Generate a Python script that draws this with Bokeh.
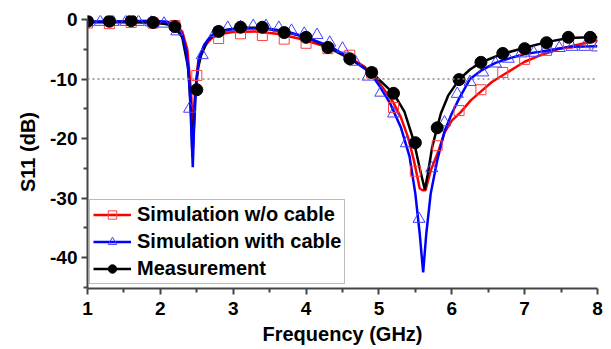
from bokeh.plotting import figure
from bokeh.models import Range1d, FixedTicker, Span, Legend, LegendItem
from bokeh.embed import file_html
from bokeh.resources import INLINE

# ---- data ----
# Simulation w/o cable (line)
red_f = [1.0, 1.5, 2.0, 2.2, 2.3, 2.37, 2.42, 2.45, 2.48, 2.52, 2.6, 2.7, 2.8, 3.0, 3.3, 3.6, 3.9,
         4.2, 4.5, 4.8, 5.0, 5.2, 5.3, 5.4, 5.48, 5.56, 5.6, 5.64, 5.71, 5.82, 5.9, 6.0, 6.12,
         6.26, 6.39, 6.55, 6.76, 7.0, 7.22, 7.45, 7.67, 7.85, 8.0]
red_db = [-0.5, -0.5, -0.6, -1.0, -2.0, -5.0, -12.0, -19.0, -12.0, -7.0, -4.5, -3.2, -2.5, -2.1,
          -2.0, -2.4, -3.2, -4.3, -5.7, -7.9, -10.6, -14.0, -16.4, -19.8, -23.7, -28.4, -28.7,
          -28.7, -25.4, -22.0, -19.0, -17.0, -15.6, -13.6, -12.2, -10.5, -8.9, -7.1, -6.0, -5.0,
          -4.4, -3.9, -3.5]
# Simulation w/o cable (markers)
red_mf = [1.0, 1.3, 1.6, 1.9, 2.2, 2.5, 2.8, 3.1, 3.4, 3.7, 4.0, 4.3, 4.6, 4.9, 5.2, 5.5, 5.8,
          6.1, 6.4, 6.7, 7.0, 7.3, 7.6, 7.9]
red_mdb = [-0.6, -0.7, -0.5, -0.6, -1.0, -9.4, -3.2, -2.4, -2.7, -3.3, -4.0, -4.9, -6.0, -9.0,
           -14.8, -25.5, -21.2, -15.3, -11.8, -8.9, -6.7, -5.2, -4.0, -3.9]

# Simulation with cable (line)
blue_f = [1.0, 1.5, 1.9, 2.1, 2.2, 2.3, 2.36, 2.4, 2.43, 2.445, 2.46, 2.49, 2.53, 2.6, 2.69,
          2.83, 3.0, 3.24, 3.5, 3.69, 3.9, 4.15, 4.33, 4.61, 4.88, 5.02, 5.15, 5.3, 5.42, 5.5,
          5.56, 5.607, 5.65, 5.71, 5.8, 5.9, 6.0, 6.1, 6.25, 6.4, 6.6, 6.8, 7.0, 7.22, 7.45,
          7.67, 8.0]
blue_db = [-0.4, -0.3, -0.2, -0.4, -0.8, -2.5, -5.5, -11.0, -20.0, -24.8, -19.0, -11.0, -6.5,
           -4.3, -2.8, -1.9, -1.6, -1.5, -1.6, -1.9, -2.6, -3.7, -4.5, -6.6, -8.9, -11.4, -14.0,
           -18.1, -23.0, -29.3, -36.0, -42.5, -36.0, -29.3, -23.7, -18.8, -15.8, -13.3, -10.0,
           -8.6, -7.3, -6.5, -5.8, -5.4, -4.9, -4.6, -4.5]
# Simulation with cable (markers)
blue_mf = [1.0, 1.175, 1.35, 1.525, 1.7, 1.875, 2.05, 2.225, 2.4, 2.575, 2.75, 2.925, 3.1,
           3.275, 3.45, 3.625, 3.8, 3.975, 4.15, 4.325, 4.5, 4.675, 4.85, 5.025, 5.2, 5.375,
           5.55, 5.725, 5.9, 6.075, 6.25, 6.425, 6.6, 6.775, 6.95, 7.125, 7.3, 7.475, 7.65,
           7.825, 8.0]
blue_mdb = [-0.5, -0.4, -0.4, -0.4, -0.4, -0.5, -0.7, -2.0, -15.0, -6.0, -2.3, -1.4, -1.3,
            -1.1, -1.1, -1.4, -1.9, -2.4, -2.6, -3.9, -4.9, -7.1, -9.6, -12.3, -15.8, -20.8,
            -33.5, -25.0, -17.3, -12.5, -10.5, -8.9, -7.4, -6.6, -5.7, -5.6, -5.0, -4.8, -4.6,
            -4.6, -4.7]

# Measurement (line)
meas_f = [1.0, 1.3, 1.6, 1.9, 2.1, 2.2, 2.3, 2.38, 2.42, 2.44, 2.46, 2.48, 2.52, 2.56, 2.65,
          2.78, 3.1, 3.4, 3.69, 4.0, 4.29, 4.6, 4.9, 5.02, 5.2, 5.35, 5.48, 5.56, 5.63, 5.67,
          5.73, 5.8, 5.85, 5.95, 6.1, 6.25, 6.4, 6.69, 6.99, 7.3, 7.6, 7.9, 8.0]
meas_db = [-0.4, -0.4, -0.3, -0.5, -0.8, -1.3, -3.0, -8.0, -15.0, -23.0, -18.0, -12.0, -8.0,
           -6.0, -3.5, -2.0, -1.4, -1.4, -2.1, -2.9, -4.6, -6.6, -8.9, -10.3, -12.4, -15.5,
           -20.5, -25.0, -28.6, -26.0, -21.5, -18.1, -15.8, -12.8, -10.1, -8.4, -7.2, -5.8,
           -4.8, -3.8, -3.1, -3.0, -3.0]
# Measurement (markers)
meas_mf = [1.0, 1.3, 1.6, 1.9, 2.2, 2.5, 2.8, 3.1, 3.4, 3.7, 4.0, 4.3, 4.6, 4.9, 5.2, 5.5, 5.8,
           6.1, 6.4, 6.7, 7.0, 7.3, 7.6, 7.9]
meas_mdb = [-0.3, -0.3, -0.2, -0.5, -1.2, -11.8, -2.0, -1.3, -1.3, -2.2, -3.0, -4.7, -6.6, -8.9,
            -12.4, -20.7, -18.2, -10.1, -7.2, -5.7, -4.9, -3.9, -3.0, -3.0]

x_ticks = [1, 2, 3, 4, 5, 6, 7, 8]
x_minor = [1.5, 2.5, 3.5, 4.5, 5.5, 6.5, 7.5]
y_ticks = [0, -10, -20, -30, -40]
y_tick_labels = ["0", "-10", "-20", "-30", "-40"]
y_minor = [-5, -15, -25, -35, -45]
labels = ["Simulation w/o cable", "Simulation with cable", "Measurement"]

FONT = "Liberation Sans"

p = figure(width=611, height=349, x_range=Range1d(1, 8), y_range=Range1d(-45.2, 0.67),
           output_backend="svg", toolbar_location=None,
           min_border_left=87, min_border_right=14, min_border_top=15, min_border_bottom=61)
p.outline_line_color = None
p.xgrid.visible = False
p.ygrid.visible = False
p.background_fill_color = "white"

for ax in (p.xaxis[0], p.yaxis[0]):
    ax.axis_line_color = "#444444"
    ax.axis_line_width = 2
    ax.major_tick_line_color = "#444444"
    ax.minor_tick_line_color = "#444444"
    ax.major_tick_line_width = 2
    ax.minor_tick_line_width = 2
    ax.major_tick_out = 6
    ax.major_tick_in = 0
    ax.minor_tick_out = 4
    ax.minor_tick_in = 0
    ax.major_label_text_font = FONT
    ax.major_label_text_font_style = "bold"
    ax.major_label_text_font_size = "19px"
    ax.major_label_text_color = "black"
    ax.axis_label_text_font = FONT
    ax.axis_label_text_font_style = "bold"
    ax.axis_label_text_font_size = "20px"
    ax.axis_label_text_color = "black"

p.xaxis.ticker = FixedTicker(ticks=x_ticks, minor_ticks=x_minor)
p.yaxis.ticker = FixedTicker(ticks=y_ticks, minor_ticks=y_minor)
p.yaxis.major_label_overrides = {t: s for t, s in zip(y_ticks, y_tick_labels)}
p.yaxis.bounds = (-45.2, 0)
p.xaxis.axis_label = "Frequency (GHz)"
p.yaxis.axis_label = "S11 (dB)"
p.xaxis.major_label_standoff = 7
p.yaxis.major_label_standoff = 4
p.xaxis.axis_label_standoff = 5
p.yaxis.axis_label_standoff = 8

p.add_layout(Span(location=-10, dimension="width", line_color="#888888",
                  line_dash="2 3", line_width=1.5))

r_line = p.line(red_f, red_db, line_color="#ff0000", line_width=2.5)
k_line = p.line(meas_f, meas_db, line_color="black", line_width=2.5)
b_line = p.line(blue_f, blue_db, line_color="#0000ff", line_width=2.5)

r_mk = p.scatter(red_mf, red_mdb, marker="square", size=10, fill_color=None,
                 line_color="#ff4040", line_width=1)
b_mk = p.scatter(blue_mf, blue_mdb, marker="triangle", size=12, fill_color=None,
                 line_color="#4040ff", line_width=1)
k_mk = p.scatter(meas_mf, meas_mdb, marker="circle", size=12, fill_color="black",
                 line_color="black")

legend = Legend(items=[LegendItem(label=labels[0], renderers=[r_line, r_mk]),
                       LegendItem(label=labels[1], renderers=[b_line, b_mk]),
                       LegendItem(label=labels[2], renderers=[k_line, k_mk])],
                location=(2, 4))
legend.border_line_color = "#777777"
legend.border_line_width = 1
legend.background_fill_color = "white"
legend.background_fill_alpha = 1
legend.label_text_font = FONT
legend.label_text_font_style = "bold"
legend.label_text_font_size = "20px"
legend.label_text_color = "black"
legend.glyph_width = 38
legend.glyph_height = 21
legend.label_height = 21
legend.label_standoff = 6
legend.spacing = 4
legend.padding = 3
legend.margin = 0
p.add_layout(legend)

open("out.html", "w").write(file_html(p, INLINE))
